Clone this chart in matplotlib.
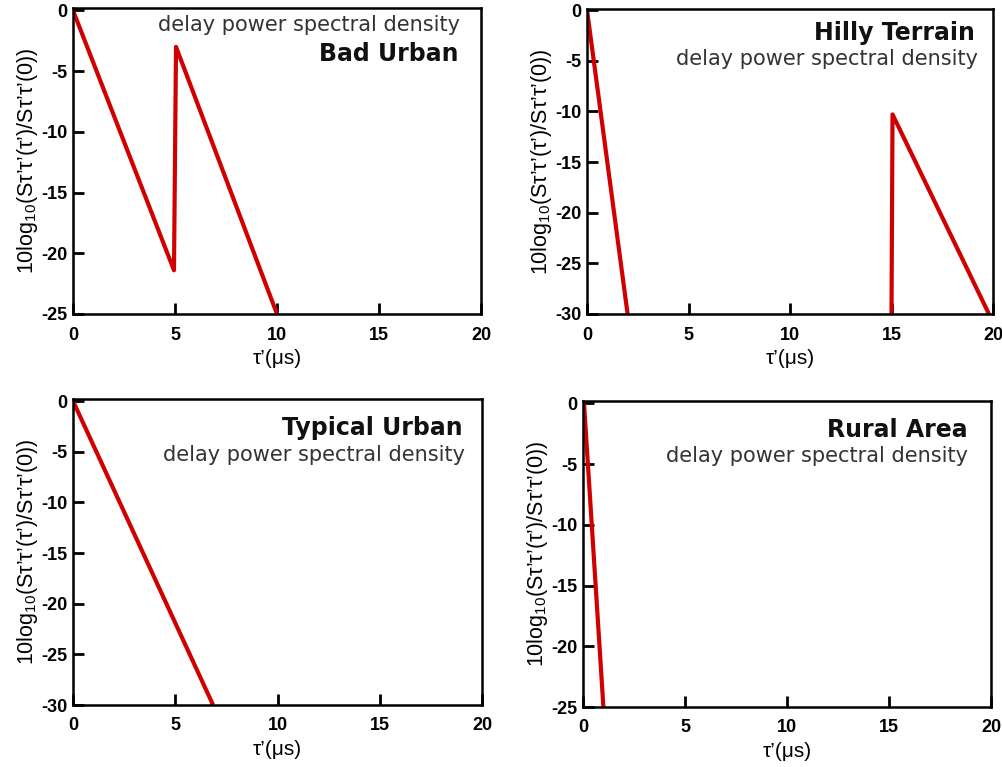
import numpy as np
import matplotlib
matplotlib.use("Agg")
import matplotlib.pyplot as plt

plt.rcParams['font.family'] = ['Liberation Sans', 'DejaVu Sans']
plt.rcParams['mathtext.fontset'] = 'custom'
plt.rcParams['mathtext.rm'] = 'Liberation Sans'
plt.rcParams['mathtext.it'] = 'Liberation Sans'
plt.rcParams['axes.unicode_minus'] = False

# ---- data ----
titles = ["Bad Urban", "Hilly Terrain", "Typical Urban", "Rural Area"]
subtitle = "delay power spectral density"

bu_x = [0, 4.95, 5.05, 10]
bu_y = [0, -21.4, -3.0, -25]

ht_x = [0, 2.0, np.nan, 15.0, 15.05, 19.8]
ht_y = [0, -30, np.nan, -30, -10.3, -30]

tu_x = [0, 6.85]
tu_y = [0, -30]

ra_x = [0.05, 1.0]
ra_y = [0, -25]

xs = [bu_x, ht_x, tu_x, ra_x]
ys = [bu_y, ht_y, tu_y, ra_y]
ylims = [(-25, 0.2), (-30, 0.1), (-30, 0.2), (-25, 0.2)]
xticks = [0, 5, 10, 15, 20]

# ---- layout (pixels) ----
W, H = 1003, 767
boxes = [(73, 8, 481, 314), (587, 9, 993, 314), (73, 399, 482, 705), (583, 401, 991, 707)]
txt = [
    (54, 459, 25, 460),
    (33, 975, 59, 978),
    (428, 463, 455, 465),
    (430, 968, 456, 968),
]

fig = plt.figure(figsize=(W / 100, H / 100), dpi=100)
ylabel = r"10log$_{10}$(Sτ’τ’(τ’)/Sτ’τ’(0))"

for i in range(4):
    l, t, r, b = boxes[i]
    ax = fig.add_axes([l / W, 1 - b / H, (r - l) / W, (b - t) / H])
    ax.plot(xs[i], ys[i], color='#d00000', lw=3.0, solid_capstyle='butt', clip_on=True)
    ax.set_xlim(0, 20)
    ax.set_ylim(*ylims[i])
    ax.set_xticks(xticks)
    lo = ylims[i][0]
    ax.set_yticks(np.arange(lo, 1, 5))
    ax.tick_params(axis='both', direction='in', length=8, width=2, labelsize=13,
                   top=False, right=False)
    ax.tick_params(axis='x', pad=9)
    ax.tick_params(axis='y', pad=4)
    for lab in ax.get_xticklabels() + ax.get_yticklabels():
        lab.set_fontweight('bold')
    for s in ax.spines.values():
        s.set_linewidth(1.8)
    ax.set_xlabel("τ’(μs)", fontsize=15, labelpad=4)
    ax.set_ylabel(ylabel, fontsize=15.5, labelpad=1)

    ny, nr, sy, sr = txt[i]
    fig.text(nr / W, 1 - ny / H, titles[i], ha='right', va='center',
             fontsize=17, fontweight='bold', family='DejaVu Sans', color='#111111')
    fig.text(sr / W, 1 - sy / H, subtitle, ha='right', va='center',
             fontsize=15, family='DejaVu Sans', color='#333333')

fig.savefig("out.png", dpi=100)
